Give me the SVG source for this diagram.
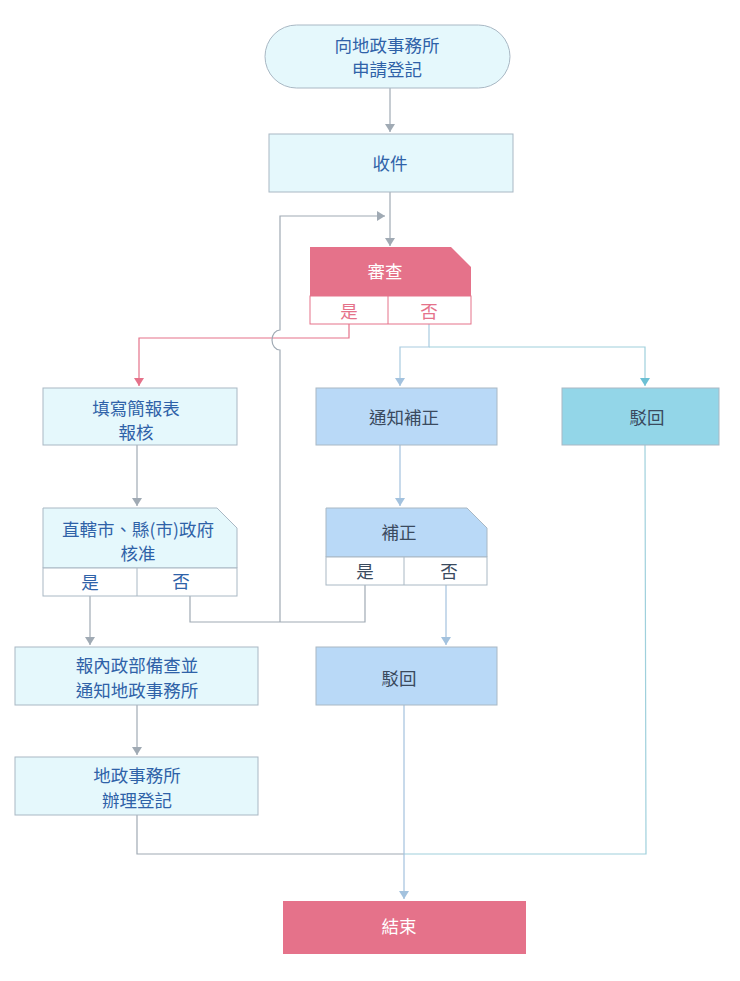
<svg xmlns="http://www.w3.org/2000/svg" width="740" height="981" viewBox="0 0 740 981">
<style>
text{font-family:"Noto Sans CJK TC","Noto Sans CJK SC",sans-serif;font-size:17.5px;font-weight:400;text-anchor:middle;dominant-baseline:central}
.t{fill:#2f62a8}
.d{fill:#3a4a5e}
.w{fill:#ffffff}
.p{fill:#e5728a}
.lc{fill:#e5f8fc;stroke:#a9b8c4;stroke-width:1}
.bl{fill:#b9d9f7;stroke:#a9b8c4;stroke-width:1}
.tl{fill:#93d6e8;stroke:#a9b8c4;stroke-width:1}
.pk{fill:#e5728a}
.cn{fill:none;stroke-width:1.2}
</style>
<defs>
<marker id="ag" markerWidth="10" markerHeight="8" refX="5" refY="8" markerUnits="userSpaceOnUse" viewBox="0 0 10 8"><path d="M0,0 L10,0 L5,8 Z" fill="#a0aab4"/></marker>
<marker id="ap" markerWidth="10" markerHeight="8" refX="5" refY="8" markerUnits="userSpaceOnUse" viewBox="0 0 10 8"><path d="M0,0 L10,0 L5,8 Z" fill="#e5728a"/></marker>
<marker id="ab" markerWidth="10" markerHeight="8" refX="5" refY="8" markerUnits="userSpaceOnUse" viewBox="0 0 10 8"><path d="M0,0 L10,0 L5,8 Z" fill="#a3c2de"/></marker>
<marker id="at" markerWidth="10" markerHeight="8" refX="5" refY="8" markerUnits="userSpaceOnUse" viewBox="0 0 10 8"><path d="M0,0 L10,0 L5,8 Z" fill="#6cc0d4"/></marker>
<marker id="ar" markerWidth="8" markerHeight="10" refX="8" refY="5" markerUnits="userSpaceOnUse" viewBox="0 0 8 10"><path d="M0,0 L8,5 L0,10 Z" fill="#a0aab4"/></marker>
</defs>

<g id="connectors">
<path class="cn" stroke="#a0aab4" d="M390,88 V132" marker-end="url(#ag)"/>
<path class="cn" stroke="#a0aab4" d="M390,192 V246" marker-end="url(#ag)"/>
<path class="cn" stroke="#e5728a" d="M349,324 V338 H139 V386" marker-end="url(#ap)"/>
<path class="cn" stroke="#a9cbe0" d="M429,324 V347 H400 V386" marker-end="url(#ab)"/>
<path class="cn" stroke="#9fd0dc" d="M429,347 H645 V386" marker-end="url(#at)"/>
<path class="cn" stroke="#a0aab4" d="M137,445 V506" marker-end="url(#ag)"/>
<path class="cn" stroke="#a3c2de" d="M400,445 V506" marker-end="url(#ab)"/>
<path class="cn" stroke="#a0aab4" d="M90,596 V645" marker-end="url(#ag)"/>
<path class="cn" stroke="#a0aab4" d="M190,596 V622 H365 V585"/>
<path class="cn" stroke="#a0aab4" d="M280,622 V350 A8,10 0 0 1 280,330 V216 H385" marker-end="url(#ar)"/>
<path class="cn" stroke="#a3c2de" d="M446,585 V645" marker-end="url(#ab)"/>
<path class="cn" stroke="#a0aab4" d="M137,705 V755" marker-end="url(#ag)"/>
<path class="cn" stroke="#a0aab4" d="M137,815 V854 H404"/>
<path class="cn" stroke="#9fd0dc" d="M645,445 L646,854 H404"/>
<path class="cn" stroke="#a3c2de" d="M404,705 V899" marker-end="url(#ab)"/>
</g>

<g id="start">
<rect class="lc" x="265" y="25" width="245" height="63" rx="31.5"/>
<text class="t" x="387" y="44">向地政事務所</text>
<text class="t" x="387" y="68">申請登記</text>
</g>

<g id="receive">
<rect class="lc" x="269" y="134" width="244" height="58"/>
<text class="t" x="390" y="162">收件</text>
</g>

<g id="review">
<path class="pk" d="M310,247 H451 L471,267 V296 H310 Z"/>
<rect x="310" y="296" width="161" height="28" fill="#fff" stroke="#e5728a" stroke-width="1"/>
<line x1="388" y1="296" x2="388" y2="324" stroke="#e5728a" stroke-width="1"/>
<text class="w" x="385" y="270">審查</text>
<text class="p" x="349" y="310">是</text>
<text class="p" x="429" y="310">否</text>
</g>

<g id="report">
<rect class="lc" x="43" y="388" width="194" height="57"/>
<text class="t" x="136" y="407">填寫簡報表</text>
<text class="t" x="136" y="431">報核</text>
</g>

<g id="notify">
<rect class="bl" x="316" y="388" width="181" height="57"/>
<text class="d" x="404" y="416">通知補正</text>
</g>

<g id="reject1">
<rect class="tl" x="562" y="388" width="157" height="57"/>
<text class="d" x="647" y="416">駁回</text>
</g>

<g id="approve">
<path class="lc" d="M43,508 H217 L237,528 V568 H43 Z"/>
<rect x="43" y="568" width="194" height="28" fill="#fff" stroke="#a9b8c4" stroke-width="1"/>
<line x1="137" y1="568" x2="137" y2="596" stroke="#a9b8c4" stroke-width="1"/>
<text class="t" x="138" y="528">直轄市、縣(市)政府</text>
<text class="t" x="138" y="552">核准</text>
<text class="t" x="90" y="581">是</text>
<text class="t" x="181" y="580">否</text>
</g>

<g id="supplement">
<path class="bl" d="M326,508 H467 L487,528 V557 H326 Z"/>
<rect x="326" y="557" width="161" height="28" fill="#fff" stroke="#a9b8c4" stroke-width="1"/>
<line x1="404" y1="557" x2="404" y2="585" stroke="#a9b8c4" stroke-width="1"/>
<text class="d" x="399" y="531">補正</text>
<text class="d" x="365" y="570">是</text>
<text class="d" x="449" y="570">否</text>
</g>

<g id="ministry">
<rect class="lc" x="15" y="647" width="243" height="58"/>
<text class="t" x="137" y="664">報內政部備查並</text>
<text class="t" x="137" y="689">通知地政事務所</text>
</g>

<g id="reject2">
<rect class="bl" x="316" y="647" width="181" height="58"/>
<text class="d" x="399" y="677">駁回</text>
</g>

<g id="register">
<rect class="lc" x="15" y="757" width="243" height="58"/>
<text class="t" x="137" y="774">地政事務所</text>
<text class="t" x="137" y="799">辦理登記</text>
</g>

<g id="end">
<rect class="pk" x="283" y="901" width="243" height="53"/>
<text class="w" x="399" y="925">結束</text>
</g>
</svg>
